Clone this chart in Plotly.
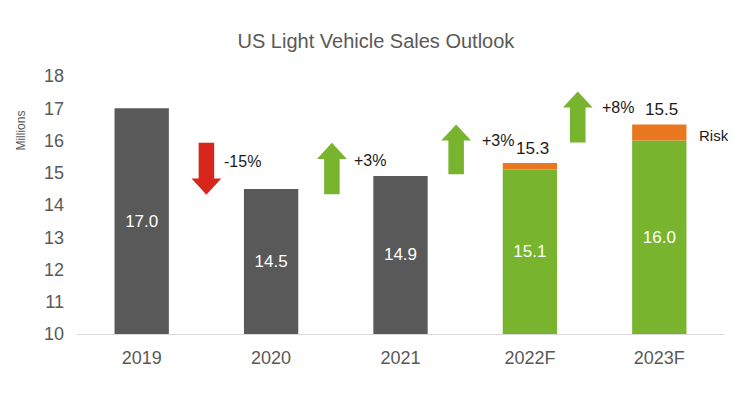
import plotly.graph_objects as go

# ---- data ----
categories = ["2019", "2020", "2021", "2022F", "2023F"]
actual_vals = [17.0, 14.5, 14.9]            # grey bars (2019-2021)
forecast_vals = [15.1, 16.0]                 # green bars (2022F, 2023F)
risk_top = [15.3, 16.5]                      # top of orange risk segment
top_labels = ["15.3", "15.5"]                # labels printed above forecast bars
axis_min = 10

# change arrows: position between bars, tail value, tip value, label
arrow_x = [0.50, 1.47, 2.43, 3.37]
arrow_tail = [15.93, 14.33, 14.95, 15.94]
arrow_tip = [14.32, 15.93, 16.50, 17.52]
arrow_labels = ["-15%", "+3%", "+3%", "+8%"]
arrow_label_x = [0.62, 1.626, 2.615, 3.54]
arrow_label_y = [15.36, 15.39, 16.0, 17.03]

GREY = "#595959"
GREEN = "#78B42E"
ORANGE = "#E8771F"
RED = "#D8261C"
FONT = "Liberation Sans, Arial, sans-serif"

idx_actual = list(range(len(actual_vals)))
idx_fc = list(range(len(actual_vals), len(categories)))

fig = go.Figure()
fig.add_trace(go.Bar(
    x=idx_actual, y=[v - axis_min for v in actual_vals], base=axis_min,
    marker=dict(color=GREY, line=dict(width=0)), width=0.42,
    text=[f"{v:.1f}" for v in actual_vals], textposition="inside",
    insidetextanchor="middle", textfont=dict(color="white", size=17, family=FONT),
    showlegend=False, hoverinfo="skip"))
fig.add_trace(go.Bar(
    x=idx_fc, y=[v - axis_min for v in forecast_vals], base=axis_min,
    marker=dict(color=GREEN, line=dict(width=0)), width=0.42,
    text=[f"{v:.1f}" for v in forecast_vals], textposition="inside",
    insidetextanchor="middle", textfont=dict(color="white", size=17, family=FONT),
    showlegend=False, hoverinfo="skip"))
fig.add_trace(go.Bar(
    x=idx_fc, y=[t - f for t, f in zip(risk_top, forecast_vals)], base=forecast_vals,
    marker=dict(color=ORANGE, line=dict(width=0)), width=0.42,
    showlegend=False, hoverinfo="skip"))

# arrows as filled polygons
shaft_hw = 0.06
head_hw = 0.115
head_h = 0.5
for x, tail, tip, lab, lx, ly in zip(arrow_x, arrow_tail, arrow_tip, arrow_labels,
                                     arrow_label_x, arrow_label_y):
    d = 1 if tip > tail else -1
    neck = tip - d * head_h
    color = GREEN if d > 0 else RED
    path = (f"M {x - shaft_hw},{tail} L {x - shaft_hw},{neck} L {x - head_hw},{neck} "
            f"L {x},{tip} L {x + head_hw},{neck} L {x + shaft_hw},{neck} "
            f"L {x + shaft_hw},{tail} Z")
    fig.add_shape(type="path", path=path, xref="x", yref="y",
                  fillcolor=color, line=dict(width=0))
    fig.add_annotation(x=lx, y=ly, text=lab, showarrow=False, xanchor="left",
                       yanchor="middle", font=dict(size=16, color="#1a1a1a", family=FONT))

for i, lab, top in zip(idx_fc, top_labels, risk_top):
    fig.add_annotation(x=i + 0.02, y=top, text=lab, showarrow=False, xanchor="center",
                       yanchor="bottom", yshift=3,
                       font=dict(size=17, color="#1a1a1a", family=FONT))

fig.add_annotation(x=idx_fc[-1] + 0.42, y=16.16, text="Risk", showarrow=False,
                   xanchor="center", yanchor="middle",
                   font=dict(size=15, color="#1a1a1a", family=FONT))

fig.add_annotation(xref="paper", yref="paper", x=-0.086, y=0.79, text="Millions",
                   textangle=-90, showarrow=False, xanchor="center", yanchor="middle",
                   font=dict(size=12, color=GREY, family=FONT))

fig.update_layout(
    width=740, height=400,
    margin=dict(l=77, r=16, t=76, b=66),
    paper_bgcolor="white", plot_bgcolor="white",
    barmode="overlay",
    title=dict(text="US Light Vehicle Sales Outlook", x=0.508, xanchor="center",
               y=0.898, yanchor="middle",
               font=dict(size=20, color=GREY, family=FONT)),
    xaxis=dict(range=[-0.5, 4.5], tickvals=list(range(len(categories))),
               ticktext=categories, showgrid=False, zeroline=False,
               showline=True, linecolor="#D9D9D9", linewidth=1,
               ticklabelstandoff=7,
               tickfont=dict(size=18, color=GREY, family=FONT)),
    yaxis=dict(range=[10, 18], dtick=1, showgrid=False, zeroline=False,
               showline=False, ticklabelstandoff=12,
               tickfont=dict(size=18, color=GREY, family=FONT)),
)

fig.write_html("out.html")
